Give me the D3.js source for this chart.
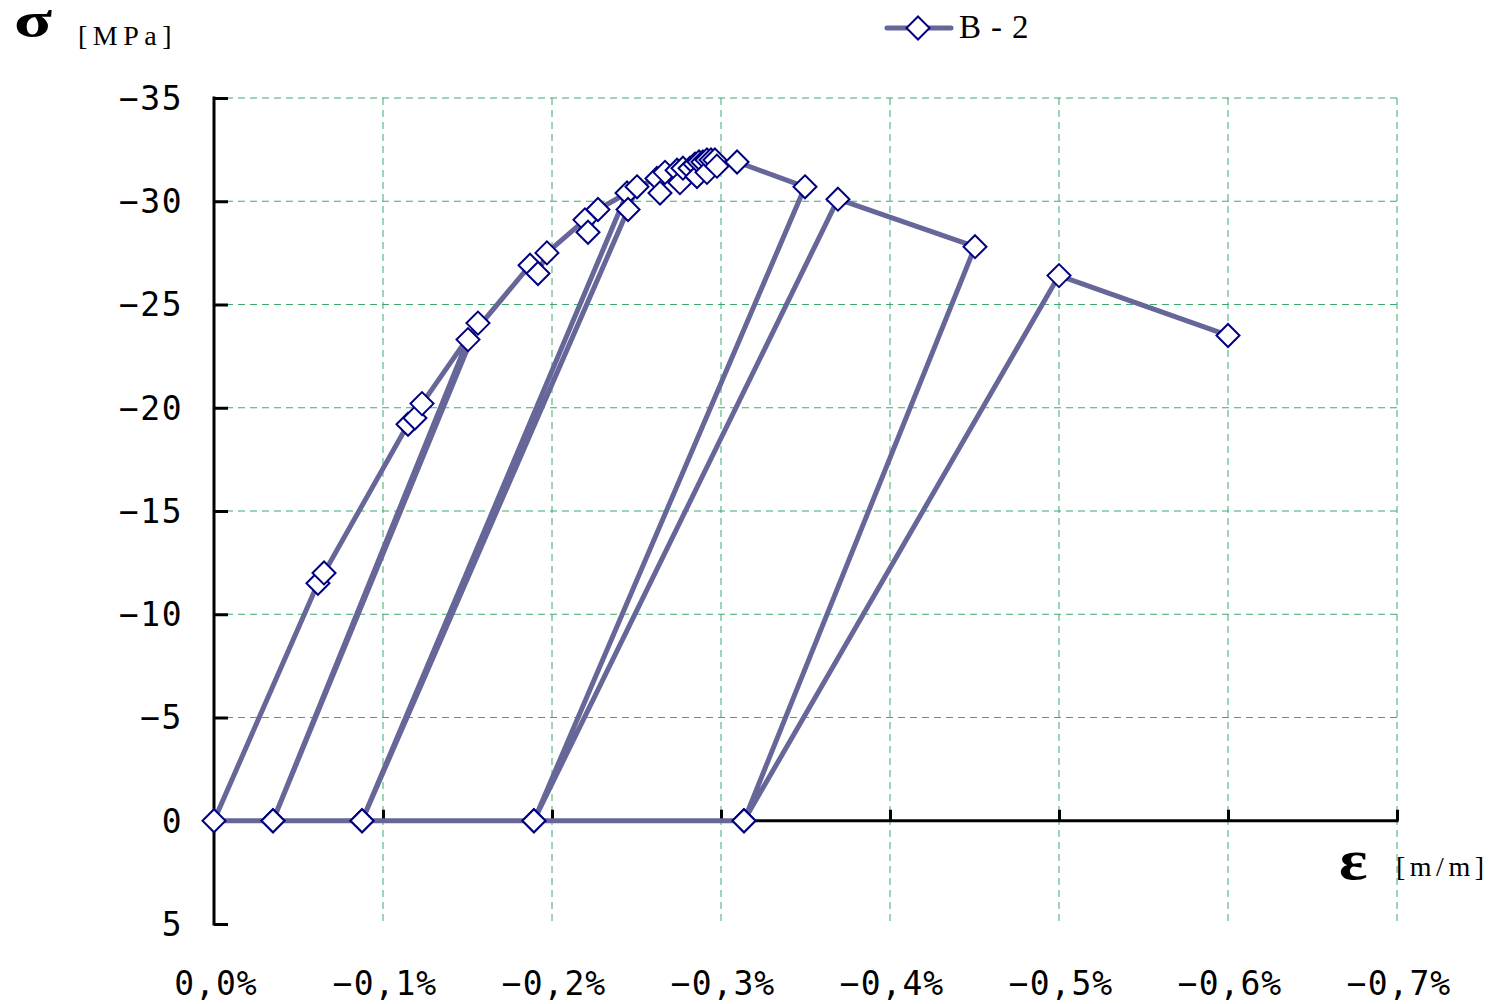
<!DOCTYPE html>
<html>
<head>
<meta charset="utf-8">
<script src="https://cdn.jsdelivr.net/npm/d3@7"></script>
<style>
  html, body { margin: 0; padding: 0; background: #fff; }
  svg { display: block; }
</style>
</head>
<body>
<svg id="chart" width="1494" height="1004"></svg>
<script>
// ---- data (strain in %, stress in MPa) ----
const seriesName = "B-2";
const strain = [
  -0.3136, -0.1893, -0.0876, -0.0349, 0,
  -0.0615, -0.0651, -0.1148, -0.1189, -0.1231, -0.1562,
  -0.0349, -0.1503, -0.1870, -0.1917, -0.1970, -0.2195, -0.2213, -0.2272, -0.2444,
  -0.0876, -0.2450, -0.2503, -0.2621, -0.2639, -0.2669, -0.2740, -0.2757, -0.2775,
  -0.2817, -0.2846, -0.2858, -0.2870, -0.2893, -0.2917, -0.2917, -0.2941, -0.2964,
  -0.2976, -0.3095, -0.3497,
  -0.1893, -0.3692, -0.4503,
  -0.3136, -0.5000, -0.6000
];
const stress = [
  0, 0, 0, 0, 0,
  -11.5, -12.0, -19.2, -19.5, -20.2, -24.1,
  0, -23.3, -26.9, -26.5, -27.5, -29.1, -28.5, -29.6, -30.4,
  0, -29.6, -30.7, -31.1, -30.4, -31.4, -31.5, -30.9, -31.6,
  -31.6, -31.8, -31.2, -31.9, -31.9, -32.0, -31.4, -32.0, -32.0,
  -31.7, -31.9, -30.7,
  0, -30.1, -27.8,
  0, -26.4, -23.5
];
const xTickValues = [0, -0.1, -0.2, -0.3, -0.4, -0.5, -0.6, -0.7];
const xTickLabels = ["0,0%", "−0,1%", "−0,2%", "−0,3%", "−0,4%", "−0,5%", "−0,6%", "−0,7%"];
const yTickValues = [-35, -30, -25, -20, -15, -10, -5, 0, 5];
const yTickLabels = ["−35", "−30", "−25", "−20", "−15", "−10", "−5", "0", "5"];

(function () {
// ---- layout ----
const svg = d3.select("#chart");
const pL = 214, pR = 1397, pT = 98, pB = 924;
const x = d3.scaleLinear().domain([0, -0.7]).range([pL, pR]);
const y = d3.scaleLinear().domain([5, -35]).range([pB, pT]);

const lineColor = "#666699";
const markerStroke = "#000080";
const gridColor = "#3fa870";
const monoTick = "'DejaVu Sans Mono', monospace";
const serif = "'Liberation Serif', 'DejaVu Serif', serif";

// grid
const grid = svg.append("g");
xTickValues.filter(v => v !== 0).forEach(v => {
  grid.append("line")
    .attr("x1", x(v)).attr("x2", x(v)).attr("y1", pT).attr("y2", pB)
    .attr("stroke", gridColor).attr("stroke-width", 1).attr("stroke-dasharray", "7,5");
});
yTickValues.filter(v => v !== 0 && v !== 5).forEach(v => {
  grid.append("line")
    .attr("x1", pL).attr("x2", pR).attr("y1", y(v)).attr("y2", y(v))
    .attr("stroke", gridColor).attr("stroke-width", 1).attr("stroke-dasharray", "7,5");
});

// y axis
const yAxis = d3.axisRight(y).tickValues(yTickValues).tickSize(14).tickFormat("");
const yg = svg.append("g").attr("transform", `translate(${pL},0)`).call(yAxis);
yg.select(".domain").remove();
yg.selectAll(".tick line").attr("stroke", "#000").attr("stroke-width", 3);
svg.append("line").attr("x1", pL).attr("x2", pL).attr("y1", pT - 1.5).attr("y2", pB + 1.5)
  .attr("stroke", "#000").attr("stroke-width", 3);
yTickValues.forEach((v, i) => {
  svg.append("text").attr("x", 183).attr("y", y(v)).attr("dy", "0.36em")
    .attr("text-anchor", "end").attr("font-family", monoTick).attr("font-size", 33)
    .attr("letter-spacing", 1.5).attr("fill", "#000").text(yTickLabels[i]);
});

// x axis at zero stress
const xAxis = d3.axisTop(x).tickValues(xTickValues.filter(v => v !== 0)).tickSize(11).tickFormat("");
const xg = svg.append("g").attr("transform", `translate(0,${y(0)})`).call(xAxis);
xg.select(".domain").remove();
xg.selectAll(".tick line").attr("stroke", "#000").attr("stroke-width", 3);
svg.append("line").attr("x1", pL).attr("x2", pR + 1.5).attr("y1", y(0)).attr("y2", y(0))
  .attr("stroke", "#000").attr("stroke-width", 3);
xTickValues.forEach((v, i) => {
  svg.append("text").attr("x", x(v) + 2).attr("y", 983).attr("dy", "0.36em")
    .attr("text-anchor", "middle").attr("font-family", monoTick).attr("font-size", 33)
    .attr("letter-spacing", 1).attr("fill", "#000").text(xTickLabels[i]);
});

// series
const pts = strain.map((e, i) => [e, stress[i]]);
const line = d3.line().x(d => x(d[0])).y(d => y(d[1]));
svg.append("path").datum(pts).attr("d", line)
  .attr("fill", "none").attr("stroke", lineColor).attr("stroke-width", 5)
  .attr("stroke-linejoin", "round").attr("stroke-linecap", "round");

const diamond = "M0,-11.5L11.5,0L0,11.5L-11.5,0Z";
svg.append("g").selectAll("path").data(pts).join("path")
  .attr("d", diamond)
  .attr("transform", d => `translate(${x(d[0])},${y(d[1])})`)
  .attr("fill", "#fff").attr("stroke", markerStroke).attr("stroke-width", 2);

// axis titles
svg.append("text").attr("transform", "translate(14,37) scale(1.4,1)").attr("font-family", serif)
  .attr("font-weight", "bold").attr("font-size", 50).attr("fill", "#000").text("σ");
svg.append("text").attr("x", 78).attr("y", 45).attr("font-family", serif)
  .attr("font-size", 28).attr("letter-spacing", 5.5).attr("fill", "#000").text("[MPa]");
svg.append("text").attr("transform", "translate(1339,879) scale(1.15,1)").attr("font-family", serif)
  .attr("font-weight", "bold").attr("font-size", 58).attr("fill", "#000").text("ε");
svg.append("text").attr("x", 1396).attr("y", 876).attr("font-family", serif)
  .attr("font-size", 28).attr("letter-spacing", 4.5).attr("fill", "#000").text("[m/m]");

// legend
const lg = svg.append("g");
lg.append("line").attr("x1", 887).attr("x2", 951).attr("y1", 28).attr("y2", 28)
  .attr("stroke", lineColor).attr("stroke-width", 5).attr("stroke-linecap", "round");
lg.append("path").attr("d", diamond).attr("transform", "translate(918,28)")
  .attr("fill", "#fff").attr("stroke", markerStroke).attr("stroke-width", 2);
lg.append("text").attr("x", 959).attr("y", 38).attr("font-family", serif)
  .attr("font-size", 33).attr("letter-spacing", 10).attr("fill", "#000").text(seriesName);
})();
</script>
</body>
</html>
